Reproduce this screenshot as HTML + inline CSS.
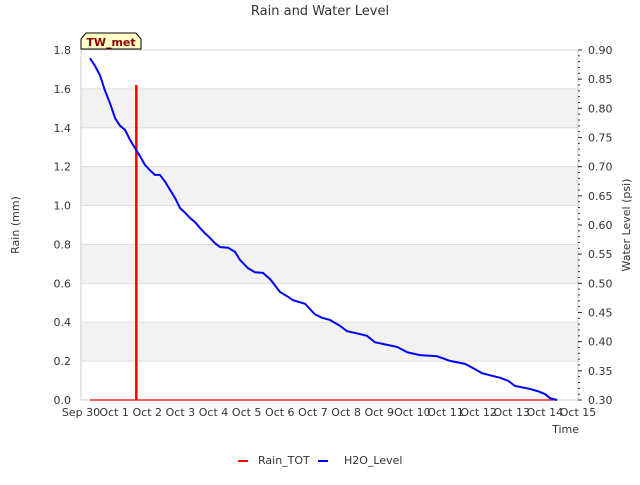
<!DOCTYPE html>
<html><head><meta charset="utf-8"><style>
body{margin:0;background:#fff;font-family:"Liberation Sans","DejaVu Sans",sans-serif}
svg text{font-family:"DejaVu Sans","Liberation Sans",sans-serif}
</style></head><body>
<svg id="c" width="640" height="480" xmlns="http://www.w3.org/2000/svg"></svg>
<script>
const xTickLabels=["Sep 30","Oct 1","Oct 2","Oct 3","Oct 4","Oct 5","Oct 6","Oct 7","Oct 8","Oct 9","Oct 10","Oct 11","Oct 12","Oct 13","Oct 14","Oct 15"];
const leftTicks=[0,0.2,0.4,0.6,0.8,1.0,1.2,1.4,1.6,1.8];
const rightTicks=[0.30,0.35,0.40,0.45,0.50,0.55,0.60,0.65,0.70,0.75,0.80,0.85,0.90];
const rainDays=[1.67];
const rainValues=[1.62];
const rainZeroRange=[0.27,14.37];
const h2oDays=[0.27,0.42,0.57,0.72,0.88,1.03,1.18,1.33,1.48,1.66,1.78,1.93,2.08,2.23,2.38,2.54,2.69,2.84,2.99,3.14,3.29,3.44,3.59,3.74,3.89,4.04,4.20,4.44,4.65,4.80,5.04,5.25,5.49,5.71,6.01,6.22,6.40,6.76,7.06,7.27,7.52,7.82,8.03,8.27,8.63,8.87,9.12,9.54,9.84,10.23,10.75,11.14,11.59,11.89,12.10,12.65,12.89,13.10,13.55,13.79,14.01,14.16,14.37];
const h2oValues=[0.886,0.873,0.857,0.831,0.808,0.783,0.770,0.763,0.746,0.729,0.718,0.703,0.694,0.686,0.686,0.674,0.660,0.646,0.629,0.621,0.612,0.605,0.595,0.586,0.578,0.569,0.562,0.561,0.554,0.540,0.526,0.519,0.518,0.507,0.485,0.478,0.471,0.465,0.447,0.441,0.437,0.427,0.418,0.415,0.410,0.399,0.396,0.391,0.382,0.377,0.375,0.367,0.362,0.353,0.346,0.338,0.333,0.324,0.319,0.315,0.310,0.303,0.300];

const L=81,R=578,T=50,B=400;
const xs=d=>L+d*(R-L)/15;
const yl=v=>B-v*(B-T)/1.8;
const yr=v=>B-(v-0.3)*(B-T)/0.6;
const svg=document.getElementById('c');
const NS="http://www.w3.org/2000/svg";
function mk(tag,attrs,name,parent){const e=document.createElementNS(NS,tag);for(const k in attrs)e.setAttribute(k,attrs[k]);


(parent||svg).appendChild(e);return e;}
function txt(x,y,s,name,extra){const t=mk('text',Object.assign({x:x,y:y,'font-size':11,fill:'#333'},extra||{}),name);t.textContent=s;return t;}

mk('rect',{x:L,y:T,width:R-L,height:B-T,fill:'#fff'},'plot-background');
for(let i=0;i<leftTicks.length-1;i++){ if(i%2==1){mk('rect',{x:L,y:yl(leftTicks[i+1]),width:R-L,height:yl(leftTicks[i])-yl(leftTicks[i+1]),fill:'#f2f2f2'},'band');}}
leftTicks.forEach(v=>{mk('line',{x1:L,x2:R,y1:yl(v),y2:yl(v),stroke:'#ddd','stroke-width':1},'grid-line');
 txt(L-10,yl(v)+4,v.toFixed(1),'left-tick-label',{'text-anchor':'end'});});
mk('line',{x1:L,x2:L,y1:T,y2:B,stroke:'#ccc'},'left-axis');
mk('line',{x1:R,x2:R,y1:T,y2:B,stroke:'#ccc'},'right-axis');
mk('line',{x1:L,x2:R,y1:B,y2:B,stroke:'#ccc'},'x-axis');
rightTicks.forEach(v=>{mk('line',{x1:R,x2:R+4,y1:yr(v),y2:yr(v),stroke:'#333'},'right-tick');
 txt(R+10,yr(v)+4,v.toFixed(2),'right-tick-label');});
for(let v=0.30;v<0.905;v+=0.01){mk('line',{x1:R,x2:R+2,y1:yr(v),y2:yr(v),stroke:'#333'},'right-minor-tick');}
xTickLabels.forEach((s,i)=>txt(xs(i),416,s,'x-tick-label',{'text-anchor':'middle'}));
txt(320,15,'Rain and Water Level','chart-title',{'text-anchor':'middle','font-size':13});
txt(579,433,'Time','x-axis-title',{'text-anchor':'end'});
txt(19,225,'Rain (mm)','y-axis-title-left',{'text-anchor':'middle',transform:'rotate(-90 19 225)'});
txt(630,225,'Water Level (psi)','y-axis-title-right',{'text-anchor':'middle',transform:'rotate(-90 630 225)'});

mk('line',{x1:xs(rainZeroRange[0]),x2:xs(rainZeroRange[1]),y1:yl(0),y2:yl(0),stroke:'#e00','stroke-width':1.2},'rain-baseline');
rainDays.forEach((d,i)=>mk('line',{x1:xs(d),x2:xs(d),y1:yl(0),y2:yl(rainValues[i]),stroke:'#f00','stroke-width':2.5},'rain-bar'));
mk('polyline',{points:h2oDays.map((d,i)=>xs(d)+','+yr(h2oValues[i])).join(' '),fill:'none',stroke:'#00f','stroke-width':2},'h2o-level-line');

mk('path',{d:'M81,49 L81,39 L86,33 L136,33 L141,39 L141,49 Z',fill:'#ffffc8',stroke:'#000','stroke-width':1},'station-badge');
txt(111,46,'TW_met','station-label',{'text-anchor':'middle','font-weight':'bold',fill:'#8b0000'});

mk('line',{x1:238,x2:248,y1:461,y2:461,stroke:'#f00','stroke-width':2},'legend-rain-swatch');
txt(258,464,'Rain_TOT','legend-rain-label');
mk('line',{x1:318,x2:328,y1:461,y2:461,stroke:'#00f','stroke-width':2},'legend-h2o-swatch');
txt(344,464,'H2O_Level','legend-h2o-label');
</script>
</body></html>
